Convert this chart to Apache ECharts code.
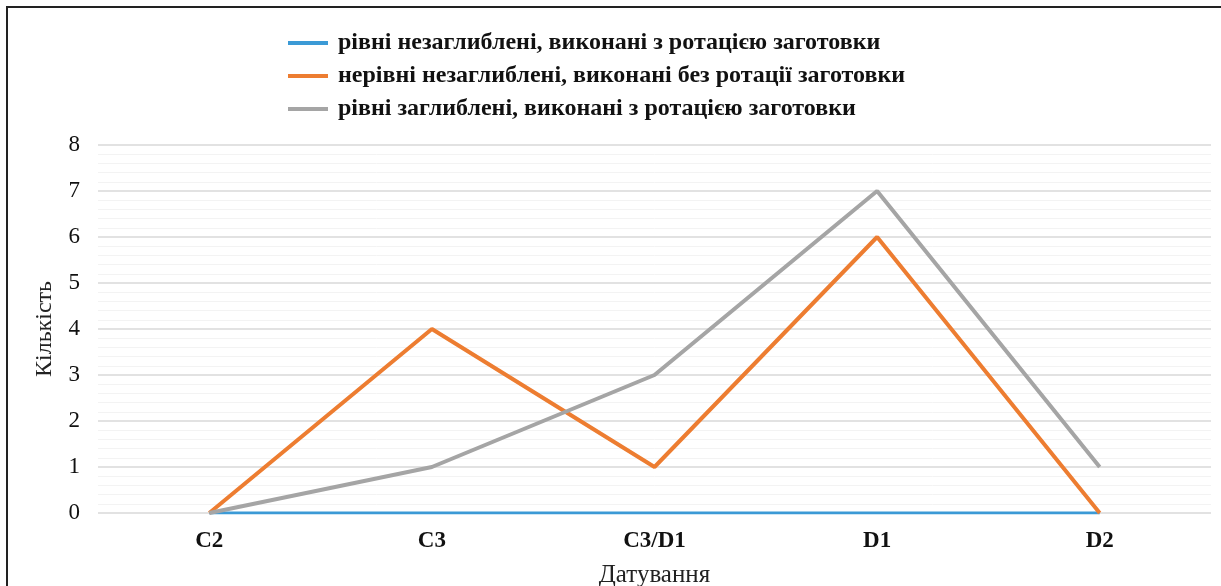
<!DOCTYPE html>
<html>
<head>
<meta charset="utf-8">
<script src="https://cdn.jsdelivr.net/npm/echarts@6/dist/echarts.min.js"></script>
<style>
  html, body { margin: 0; padding: 0; background: #fff; overflow: hidden; }
  #frame {
    position: absolute; left: 6px; top: 6px; width: 1240px; height: 600px;
    border: 2px solid #222; box-sizing: border-box;
  }
  #chart { position: absolute; left: 0; top: 0; width: 1221px; height: 586px; }
</style>
</head>
<body>
<div id="frame"></div>
<div id="chart"></div>
<script>
// categories (dating) and series values
const categories = ["C2", "C3", "C3/D1", "D1", "D2"];
const seriesNames = [
  "рівні незаглиблені, виконані з ротацією заготовки",
  "нерівні незаглиблені, виконані без ротації заготовки",
  "рівні заглиблені, виконані з ротацією заготовки"
];
const evenShallow = [0, 0, 0, 0, 0];
const unevenShallow = [0, 4, 1, 6, 0];
const evenDeep = [0, 1, 3, 7, 1];
const colors = ["#3b9ad6", "#ed7d31", "#a5a5a5"];

const serif = "'Liberation Serif', 'DejaVu Serif', serif";

const chart = echarts.init(document.getElementById("chart"));

const lineSeries = (name, data, color, width) => ({
  name: name,
  type: "line",
  data: data,
  symbol: "none",
  color: color,
  lineStyle: { width: width, color: color },
  animation: false
});

const option = {
  backgroundColor: "transparent",
  legend: {
    orient: "vertical",
    left: 283,
    top: 26,
    itemWidth: 40,
    itemHeight: 4,
    itemGap: 9,
    icon: "rect",
    textStyle: {
      fontFamily: serif,
      fontWeight: "bold",
      fontSize: 24,
      lineHeight: 24,
      color: "#111",
      padding: [0, 0, 0, 5]
    },
    data: seriesNames
  },
  grid: { left: 98, right: 10, top: 145, bottom: 73, outerBoundsMode: "none" },
  xAxis: {
    type: "category",
    data: categories,
    boundaryGap: true,
    name: "Датування",
    nameLocation: "middle",
    nameGap: 50,
    nameTextStyle: { fontFamily: serif, fontSize: 25, color: "#222" },
    axisLine: { show: false },
    axisTick: { show: false },
    axisLabel: {
      fontFamily: serif,
      fontWeight: "bold",
      fontSize: 23,
      color: "#111",
      margin: 17
    }
  },
  yAxis: {
    type: "value",
    min: 0,
    max: 8,
    interval: 1,
    name: "Кількість",
    nameLocation: "middle",
    nameGap: 41,
    nameTextStyle: { fontFamily: serif, fontSize: 24, color: "#222" },
    axisLine: { show: false },
    axisTick: { show: false },
    axisLabel: {
      fontFamily: serif,
      fontSize: 23,
      color: "#111",
      margin: 18
    },
    splitLine: { lineStyle: { color: "#e2e2e2", width: 2 } },
    minorTick: { show: false, splitNumber: 5 },
    minorSplitLine: { show: true, lineStyle: { color: "#f3f3f3", width: 1 } }
  },
  series: [
    lineSeries(seriesNames[0], evenShallow, colors[0], 3),
    lineSeries(seriesNames[1], unevenShallow, colors[1], 4),
    lineSeries(seriesNames[2], evenDeep, colors[2], 4)
  ]
};

chart.setOption(option);
</script>
</body>
</html>
